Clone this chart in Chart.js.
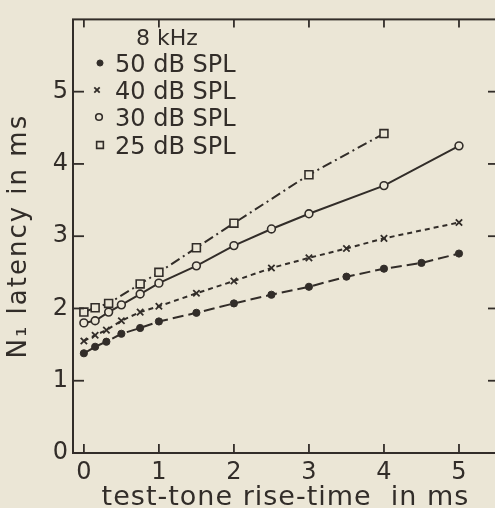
<!DOCTYPE html>
<html><head><meta charset="utf-8">
<script src="https://cdn.jsdelivr.net/npm/chart.js@4/dist/chart.umd.min.js"></script>
<style>
html,body{margin:0;padding:0;background:#ebe6d6;overflow:hidden;width:495px;height:508px}
canvas{display:block}
</style></head><body>
<canvas id="c" width="510" height="515"></canvas>
<script>
const frequencyLabel = '8 kHz';
const seriesLabels = ['50 dB SPL', '40 dB SPL', '30 dB SPL', '25 dB SPL'];
const rise50 = [0, 0.15, 0.3, 0.5, 0.75, 1, 1.5, 2, 2.5, 3, 3.5, 4, 4.5, 5];
const lat50  = [1.38, 1.47, 1.54, 1.65, 1.73, 1.82, 1.94, 2.07, 2.19, 2.30, 2.44, 2.55, 2.63, 2.76];
const rise40 = [0, 0.15, 0.3, 0.5, 0.75, 1, 1.5, 2, 2.5, 3, 3.5, 4, 5];
const lat40  = [1.55, 1.63, 1.70, 1.83, 1.95, 2.03, 2.21, 2.38, 2.56, 2.70, 2.83, 2.97, 3.19];
const rise30 = [0, 0.15, 0.33, 0.5, 0.75, 1, 1.5, 2, 2.5, 3, 4, 5];
const lat30  = [1.80, 1.83, 1.95, 2.05, 2.20, 2.35, 2.59, 2.87, 3.10, 3.31, 3.70, 4.25];
const rise25 = [0, 0.15, 0.33, 0.75, 1, 1.5, 2, 3, 4];
const lat25  = [1.95, 2.01, 2.07, 2.34, 2.50, 2.84, 3.18, 3.85, 4.42];
const xTickValues = [0, 1, 2, 3, 4, 5];
const yTickValues = [0, 1, 2, 3, 4, 5];
const xAxisTitle = 'test-tone rise-time  in ms';
const yAxisTitle = 'N\u2081 latency in ms';

const ink = '#322d29';
const paper = '#ebe6d6';
const FAMILY = '"DejaVu Sans", sans-serif';

function pts(xs, ys) { return xs.map((v, i) => ({x: v, y: ys[i]})); }

const datasets = [
  {label: seriesLabels[0], data: pts(rise50, lat50), borderDash: [11, 5], pointStyle: 'circle', pointRadius: 3.6, pointBorderWidth: 1, pointBackgroundColor: ink},
  {label: seriesLabels[1], data: pts(rise40, lat40), borderDash: [5, 4], pointStyle: 'crossRot', pointRadius: 4.5, pointBorderWidth: 1.8, pointBackgroundColor: ink},
  {label: seriesLabels[2], data: pts(rise30, lat30), borderDash: [], pointStyle: 'circle', pointRadius: 3.9, pointBorderWidth: 1.6, pointBackgroundColor: paper},
  {label: seriesLabels[3], data: pts(rise25, lat25), borderDash: [10, 4, 2, 4], pointStyle: 'rect', pointRadius: 5.6, pointBorderWidth: 1.6, pointBackgroundColor: paper}
].map(d => Object.assign({borderColor: ink, pointBorderColor: ink, borderWidth: 2, fill: false, tension: 0, showLine: true}, d));

function spacedTitle(scale, spacing) {
  if (scale._spacedTitle) return;
  scale._spacedTitle = true;
  const orig = scale.drawTitle;
  scale.drawTitle = function () {
    const ctx = this.ctx;
    ctx.save();
    ctx.letterSpacing = spacing;
    orig.apply(this, arguments);
    ctx.restore();
  };
}

const framePlugin = {
  id: 'frame',
  afterDatasetsDraw(chart) {
    const {ctx, chartArea: a, scales: {x, y}} = chart;
    ctx.save();
    ctx.strokeStyle = ink;
    ctx.lineWidth = 2;
    ctx.strokeRect(a.left, a.top, a.right - a.left, a.bottom - a.top);
    ctx.lineWidth = 1.8;
    const line = (x1, y1, x2, y2) => { ctx.beginPath(); ctx.moveTo(x1, y1); ctx.lineTo(x2, y2); ctx.stroke(); };
    xTickValues.forEach(v => { const p = x.getPixelForValue(v); line(p, a.bottom, p, a.bottom - 9); line(p, a.top, p, a.top + 8); });
    yTickValues.forEach(v => { const p = y.getPixelForValue(v); line(a.left, p, a.left + 11, p); line(a.right, p, a.right - 10, p); });
    ctx.restore();
  }
};

const legendPlugin = {
  id: 'innerLegend',
  afterDraw(chart) {
    const ctx = chart.ctx;
    ctx.save();
    ctx.fillStyle = ink;
    ctx.strokeStyle = ink;
    ctx.textBaseline = 'alphabetic';
    ctx.font = '22px ' + FAMILY;
    ctx.textAlign = 'center';
    ctx.fillText(frequencyLabel, 167, 45);
    ctx.font = '24px ' + FAMILY;
    ctx.textAlign = 'left';
    const centers = [63, 90, 117, 145];
    const markerX = [100, 97, 99, 100];
    chart.data.datasets.forEach((ds, i) => {
      const cy = centers[i];
      ctx.fillStyle = ink;
      ctx.fillText(ds.label, 115, cy + 8.5);
      ctx.fillStyle = ds.pointBackgroundColor;
      ctx.strokeStyle = ink;
      ctx.lineWidth = ds.pointBorderWidth;
      Chart.helpers.drawPoint(ctx, {pointStyle: ds.pointStyle, radius: ds.pointRadius * 0.85, borderWidth: ds.pointBorderWidth, rotation: 0}, markerX[i], cy);
    });
    ctx.restore();
  }
};

new Chart(document.getElementById('c'), {
  type: 'scatter',
  data: {datasets},
  options: {
    responsive: false,
    animation: false,
    devicePixelRatio: 1,
    layout: {padding: {top: 13, right: 12, left: 0, bottom: 0}},
    plugins: {legend: {display: false}, tooltip: {enabled: false}},
    scales: {
      x: {
        type: 'linear', min: -0.145, max: 5.52,
        afterBuildTicks: s => { s.ticks = xTickValues.map(v => ({value: v})); },
        afterFit: s => { s.height = 62; spacedTitle(s, '1px'); },
        grid: {display: false, drawTicks: false}, border: {display: false},
        ticks: {color: ink, font: {family: FAMILY, size: 24}, padding: 5, maxRotation: 0, autoSkip: false, callback: v => String(v)},
        title: {display: true, text: xAxisTitle, color: ink, font: {family: FAMILY, size: 27}, padding: {top: 0, bottom: 1}}
      },
      y: {
        type: 'linear', min: 0, max: 6,
        afterBuildTicks: s => { s.ticks = yTickValues.map(v => ({value: v})); },
        afterFit: s => { s.width = 73; spacedTitle(s, '2px'); },
        grid: {display: false, drawTicks: false}, border: {display: false},
        ticks: {color: ink, font: {family: FAMILY, size: 24}, padding: 5, autoSkip: false, callback: v => String(v)},
        title: {display: true, text: yAxisTitle, color: ink, font: {family: FAMILY, size: 26}, padding: {top: 4, bottom: 0}}
      }
    }
  },
  plugins: [framePlugin, legendPlugin]
});
</script>
</body></html>
